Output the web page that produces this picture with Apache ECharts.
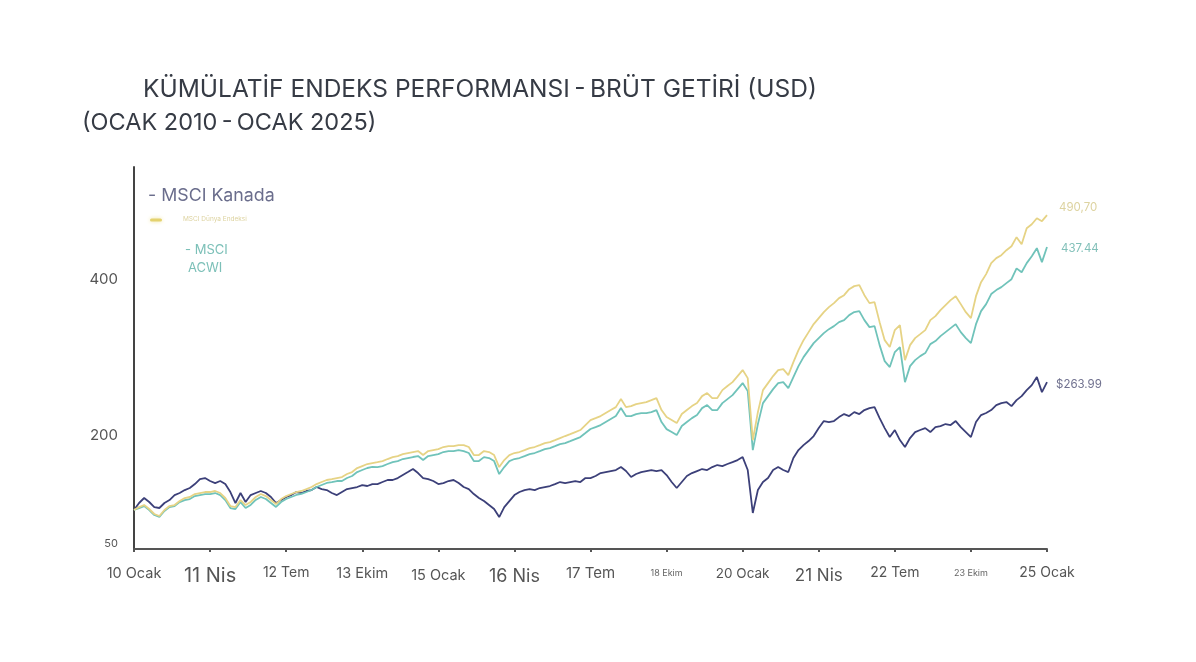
<!DOCTYPE html>
<html><head><meta charset="utf-8">
<script src="https://cdn.jsdelivr.net/npm/echarts@6/dist/echarts.min.js"></script>
<style>html,body{margin:0;padding:0;background:#fff}#c{width:1196px;height:662px}</style>
</head><body><div id="c"></div>
<script>
// monthly points Jan 2010 .. Jan 2025 (181)
const months = [];
for (let y = 2010; y <= 2025; y++) for (let m = 1; m <= 12; m++) { if (y === 2025 && m > 1) break; months.push(y + '-' + String(m).padStart(2, '0')); }

const tickLabels = ['10 Ocak','11 Nis','12 Tem','13 Ekim','15 Ocak','16 Nis','17 Tem','18 Ekim','20 Ocak','21 Nis','22 Tem','23 Ekim','25 Ocak'];
const yLabels = [50, 200, 400];
const endLabels = ['490,70', '437.44', '$263.99'];
const seriesNames = ['MSCI Dünya Endeksi', 'MSCI ACWI', 'MSCI Kanada'];

const world = [100,103.8,106.4,101.3,94.9,92.3,100.0,105.1,106.4,111.5,115.4,116.7,120.5,121.8,123.1,123.1,124.4,121.8,115.4,105.1,103.8,112.8,106.4,110.3,116.7,120.5,117.9,112.8,107.7,114.1,117.9,120.5,123.1,124.4,126.9,129.5,133.3,135.9,138.5,139.7,141.0,142.3,146.2,148.7,153.8,156.4,159.0,160.3,161.5,162.8,165.4,167.9,169.2,171.8,173.1,174.4,175.6,170.5,175.6,176.9,178.2,180.8,182.0,182.0,183.3,183.3,180.8,170.5,170.5,175.6,174.4,170.5,155.1,164.1,170.5,173.1,174.4,176.9,179.5,180.8,183.3,185.9,187.2,189.7,192.3,194.9,197.4,200.0,202.6,209.0,215.4,217.9,220.5,224.4,228.2,232.0,242.3,232.0,233.3,235.9,237.2,238.5,241.0,243.6,228.2,219.2,215.4,211.5,223.1,228.2,233.3,237.2,246.1,250.0,243.6,243.6,253.8,259.0,264.1,271.8,279.5,269.2,189.7,225.6,253.8,262.8,271.8,279.5,280.8,273.1,289.7,305.1,317.9,328.2,338.5,346.1,353.8,360.2,365.4,371.8,375.6,383.3,387.2,388.5,375.6,365.4,366.7,341.0,317.9,309.0,330.8,337.2,292.3,311.5,320.5,325.6,330.8,343.6,348.7,356.4,362.8,369.2,374.3,364.1,353.8,346.1,374.3,392.3,402.6,416.7,423.1,426.9,433.3,438.4,450.0,441.0,461.5,466.6,474.3,470.5,478.2];

const acwi = [100,102.5,105.1,100.0,93.6,91.0,98.7,103.8,105.1,110.2,112.8,114.1,117.9,119.2,120.5,120.5,121.8,119.2,112.8,102.5,101.2,110.2,102.6,106.5,112.9,116.7,114.1,109.0,103.9,110.3,114.1,116.7,119.3,120.6,123.1,125.7,129.5,132.1,134.7,135.9,137.2,137.2,141.1,143.6,148.7,151.3,153.9,155.2,155.1,156.4,159.0,161.5,162.8,165.4,166.7,168.0,169.2,164.1,169.2,170.5,171.8,174.4,175.6,175.6,176.9,175.6,173.1,162.8,162.8,167.9,166.7,162.8,146.1,155.1,162.8,165.4,166.7,169.2,171.8,173.1,175.6,178.2,179.5,182.0,184.6,185.9,188.4,191.0,193.6,198.7,203.9,206.4,209.0,212.9,216.7,220.5,230.8,220.5,220.5,223.1,224.4,224.4,225.6,228.2,212.8,203.8,200.0,196.1,207.7,212.8,217.9,221.8,230.7,234.6,228.2,228.2,237.1,242.3,247.4,255.1,262.8,252.5,176.9,210.2,237.1,246.1,255.1,262.8,264.1,256.4,270.5,284.6,296.1,305.1,314.1,320.5,326.9,332.0,335.9,341.0,343.6,350.0,353.9,355.2,343.6,334.6,335.9,311.5,291.0,283.4,302.6,309.0,264.0,284.6,292.3,297.4,301.3,312.8,316.7,323.1,328.2,333.3,338.4,328.2,320.5,314.1,338.4,355.1,364.1,377.0,382.1,385.9,391.0,396.1,410.0,405.0,416.7,425.6,435.9,418.0,437.44];

const canada = [100,109.0,115.4,110.3,103.8,102.6,109.0,112.8,119.2,121.8,125.6,128.2,133.3,139.7,141.0,137.2,134.6,137.2,133.3,123.1,109.0,121.8,110.3,119.2,121.8,124.4,121.8,116.7,109.0,112.8,116.7,119.2,123.1,121.8,124.4,125.6,129.5,126.9,125.6,121.8,119.2,123.1,126.9,128.2,129.5,132.0,130.8,133.3,133.3,135.9,138.5,138.5,141.0,144.9,148.7,152.6,147.4,141.0,139.7,137.2,133.3,134.6,137.2,138.5,134.6,129.5,126.9,120.5,115.4,111.5,106.4,101.3,91.0,103.8,111.5,119.2,123.1,125.6,126.9,125.6,128.2,129.5,130.8,133.3,135.9,134.6,135.9,137.2,135.9,141.0,141.0,143.6,147.4,148.7,150.0,151.3,155.1,150.0,142.3,146.2,148.7,150.0,151.3,150.0,151.3,144.9,135.9,128.2,135.9,143.6,147.4,150.0,152.6,151.3,155.1,157.7,156.4,159.0,161.5,164.1,167.9,151.3,96.2,125.6,135.9,141.0,151.3,155.1,151.3,148.7,166.7,176.9,183.3,188.5,194.9,205.1,214.1,212.8,214.1,219.2,223.1,220.5,225.6,223.1,228.2,230.8,232.0,217.9,205.1,193.6,202.6,189.7,180.8,192.3,200.0,202.6,205.1,200.0,206.4,207.7,210.3,209.0,214.1,206.4,200.0,193.6,212.8,221.8,224.4,228.2,234.6,237.2,238.5,233.3,241.0,246.1,253.8,260.2,270.5,251.2,263.99];

const COLORS = ['#e6d385', '#70c3ba', '#3c4079'];
const LABEL_COLORS = ['#ddd3a0', '#82c0b9', '#70718f'];

// per-tick label styling (font size, top padding)
const tickSize = [14.5, 20, 14, 14.5, 14.5, 18, 15, 9, 13.5, 17, 14, 9, 14];
const tickPad  = [0, 0, 0, 0, 2, 2, 0, 3, 1, 1, 0, 3, 0];

const FONT = 'Inter, "Noto Sans", sans-serif';
const rich = {};
tickSize.forEach((s, k) => { rich['t' + k] = {fontSize: s, color: k === 7 || k === 11 ? '#666' : '#555', fontFamily: FONT, padding: [tickPad[k], 0, 0, 0]}; });

const chart = echarts.init(document.getElementById('c'), null, {renderer: 'canvas'});

function mkSeries(name, data, i, offY, dist) {
  return {
    name, type: 'line', data, symbol: 'none', smooth: false,
    lineStyle: {color: COLORS[i], width: 1.8},
    itemStyle: {color: COLORS[i]},
    z: 3 - i,
    endLabel: {show: true, formatter: () => endLabels[i], color: LABEL_COLORS[i], fontSize: 11.5, fontFamily: FONT, distance: dist, offset: [0, offY]}
  };
}

chart.setOption({
  backgroundColor: '#fff',
  animation: false,
  grid: {left: 134, right: 149, top: 167, bottom: 113, containLabel: false},
  xAxis: {
    type: 'category', data: months, boundaryGap: false,
    axisLine: {lineStyle: {color: '#555', width: 2}},
    axisTick: {show: true, interval: 14, length: 3, lineStyle: {color: '#555', width: 2}},
    axisLabel: {
      interval: 14, margin: 17, fontFamily: FONT, color: '#555',
      formatter: (v, idx) => { const k = Math.round(idx / 15); return '{t' + k + '|' + tickLabels[k] + '}'; },
      rich
    },
    splitLine: {show: false}
  },
  yAxis: {
    type: 'value', min: 50, max: 540, interval: 50,
    axisLine: {show: true, lineStyle: {color: '#444', width: 2}},
    axisTick: {show: false},
    splitLine: {show: false},
    axisLabel: {
      margin: 16, fontFamily: FONT, color: '#555',
      formatter: v => yLabels.includes(v) ? (v === 50 ? '{s|50}' : '{n|' + v + '}') : '',
      rich: {n: {fontSize: 15, color: '#555', fontFamily: FONT, padding: [6, 0, 0, 0]}, s: {fontSize: 11, color: '#555', fontFamily: FONT, padding: [0, 0, 10, 0]}}
    }
  },
  series: [
    mkSeries(seriesNames[0], world, 0, -8, 12),
    mkSeries(seriesNames[1], acwi, 1, 2, 14),
    mkSeries(seriesNames[2], canada, 2, 2, 9)
  ],
  graphic: [
    {type: 'text', left: 143, top: 77, style: {text: 'KÜMÜLATİF ENDEKS PERFORMANSI\u2009-\u2009BRÜT GETİRİ (USD)', fontSize: 24.5, fontFamily: FONT, fill: '#363b45'}},
    {type: 'text', left: 82, top: 111, style: {text: '(OCAK 2010\u2009-\u2009OCAK 2025)', fontSize: 23.5, fontFamily: FONT, fill: '#363b45'}},
    {type: 'text', left: 148, top: 187, style: {text: '- MSCI Kanada', fontSize: 17.8, fontFamily: FONT, fill: '#6a6d8c'}},
    {type: 'rect', shape: {x: 150, y: 218.5, width: 12, height: 3, r: 1.5}, style: {fill: '#e4d26e', shadowBlur: 4, shadowColor: '#efe4a0'}},
    {type: 'text', left: 183, top: 216, style: {text: 'MSCI Dünya Endeksi', fontSize: 6.5, fontFamily: FONT, fill: '#ddd3a0'}},
    {type: 'text', left: 185, top: 244, style: {text: '- MSCI', fontSize: 13, fontFamily: FONT, fill: '#7cc0b8'}},
    {type: 'text', left: 188, top: 262, style: {text: 'ACWI', fontSize: 13, fontFamily: FONT, fill: '#7cc0b8'}}
  ]
});
</script></body></html>
